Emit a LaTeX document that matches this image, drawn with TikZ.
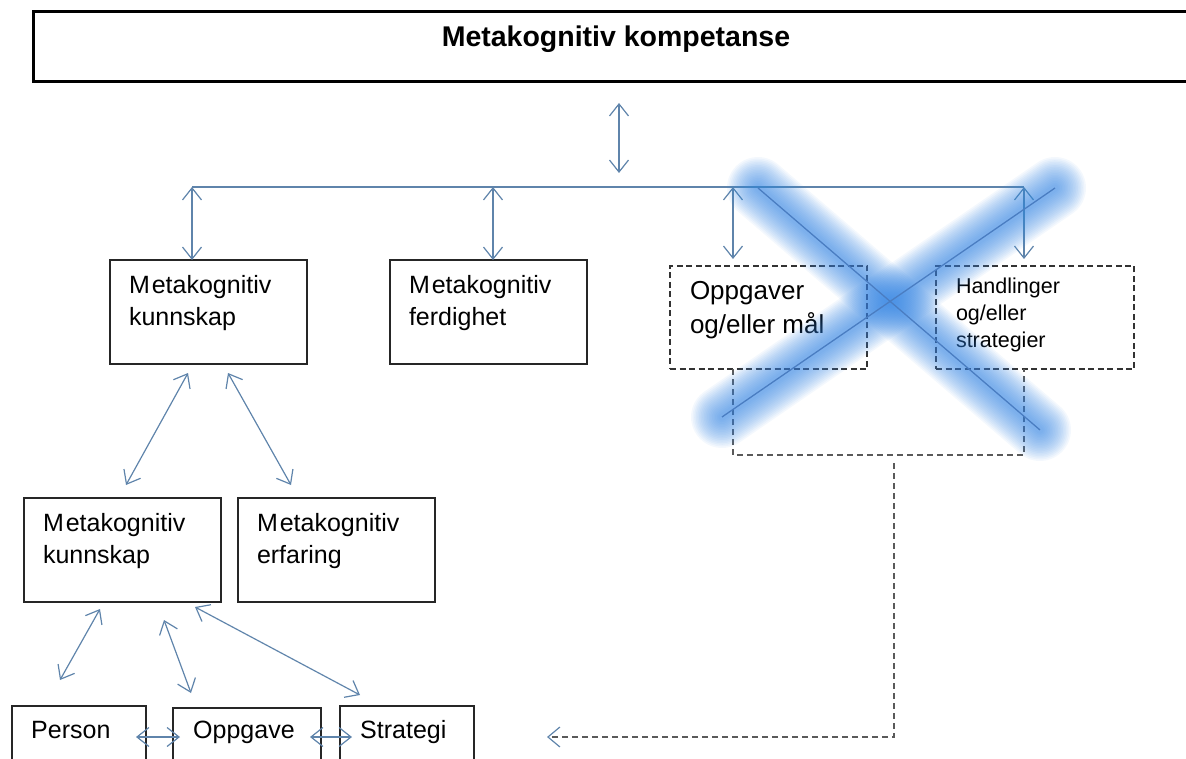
\documentclass[tikz,border=0pt]{standalone}
\usepackage{fontspec}
\setmainfont{Liberation Sans}
\usetikzlibrary{arrows.meta,calc}
\definecolor{arrowc}{HTML}{5F84AB}
\definecolor{dashc}{HTML}{5A5A5A}
\definecolor{crossc}{HTML}{3484E2}
\definecolor{crossline}{HTML}{4A7DC2}
\begin{document}
\begin{tikzpicture}[x=1pt,y=-1pt,
  box/.style={draw=black!85, line width=1.4pt, inner sep=0pt, outer sep=0pt,
    anchor=north west, minimum width=197pt, minimum height=104pt},
  dbox/.style={box, draw=black!80, dash pattern=on 6pt off 3.5pt, line width=1.3pt,
    minimum height=103pt},
  leaf/.style={box, minimum height=90pt},
  txt/.style={anchor=north west, inner sep=0pt, outer sep=0pt, align=left,
    font=\fontsize{25}{32}\selectfont},
  link/.style={draw=arrowc, line width=1.2pt,
    {Straight Barb[length=12pt,width=19pt]}-{Straight Barb[length=12pt,width=19pt]}},
  guide/.style={draw=dashc, line width=1.2pt, dash pattern=on 6pt off 4pt},
]
\useasboundingbox (0,0) rectangle (1186,759);
\clip (0,0) rectangle (1186,759);

% title bar
\node[draw=black, line width=3pt, inner sep=0pt, outer sep=0pt, anchor=north west,
  minimum width=1180pt, minimum height=70pt] (top) at (33,12) {};
\node[anchor=base, inner sep=0pt, font=\bfseries\fontsize{28.5}{30}\selectfont]
  (toptext) at (616,47) {Metakognitiv kompetanse};

% second level
\node[box]  (A) at (110,260) {};
\node[box]  (B) at (390,260) {};
\node[dbox] (C) at (670,266) {};
\node[dbox, minimum width=198pt] (D) at (936,266) {};
\node[txt] (At) at (129,275) {M\kern2pt etakognitiv\\kunnskap};
\node[txt] (Bt) at (409,275) {M\kern2pt etakognitiv\\ferdighet};
\node[txt, font=\fontsize{26}{34}\selectfont] (Ct) at (690,281) {Oppgaver\\og/eller mål};
\node[txt, font=\fontsize{21.5}{27}\selectfont] (Dt) at (956,278) {Handlinger\\og/eller\\strategier};

% third level
\node[box] (E) at (24,498) {};
\node[box] (F) at (238,498) {};
\node[txt] (Et) at (43,513) {M\kern2pt etakognitiv\\kunnskap};
\node[txt] (Ft) at (257,513) {M\kern2pt etakognitiv\\erfaring};

% bottom level
\node[leaf, minimum width=134pt] (P) at (12,706) {};
\node[leaf, minimum width=148pt] (O) at (173,708) {};
\node[leaf, minimum width=134pt] (S) at (340,706) {};
\node[anchor=base west, inner sep=0pt, font=\fontsize{25}{30}\selectfont] (Pt) at (31,738) {Person};
\node[anchor=base west, inner sep=0pt, font=\fontsize{25}{30}\selectfont] (Ot) at (193,738) {Oppgave};
\node[anchor=base west, inner sep=0pt, font=\fontsize{25}{30}\selectfont] (St) at (360,738) {Strategi};

% bus line and arrows down from it
\coordinate (busL) at (192,187);
\coordinate (busB) at (493,187);
\coordinate (hub)  at (619,187);
\coordinate (busC) at (733,187);
\coordinate (busR) at (1024,187);
\draw[draw=arrowc, line width=1.2pt] (busL) -- (busR);
\draw[link, shorten <=21pt, shorten >=14pt] (top.south -| hub) -- (hub);
\draw[link] (busL) -- (busL |- A.north);
\draw[link] (busB) -- (busB |- B.north);
\draw[link, shorten >=7pt] (busC) -- (busC |- C.north);
\draw[link, shorten >=7pt] (busR) -- (busR |- D.north);

% knowledge branches
\draw[link] ($(A.south west)+(78,9)$)  -- ($(E.north west)+(102,-13)$);
\draw[link] ($(A.south west)+(118,9)$) -- ($(F.north west)+(53,-13)$);
\draw[link] ($(E.south west)+(76,7)$)   -- ($(P.north west)+(48,-26)$);
\draw[link] ($(E.south west)+(140,18)$) -- ($(O.north west)+(18,-15)$);
\draw[link] ($(E.south west)+(171,5)$)  -- ($(S.north west)+(20,-11)$);
\draw[link] ($(P.north east)+(-10,31)$) -- ($(O.north west)+(7,29)$);
\draw[link] ($(O.north east)+(-11,29)$) -- ($(S.north west)+(12,31)$);

% dashed bracket under the two dashed boxes, returning to the bottom row
\coordinate (brk) at (894,455);
\coordinate (ret) at (547,737);
\draw[guide] (C.south -| busC) -- (busC |- brk) -- (busR |- brk) -- (D.south -| busR);
\draw[guide, -{Straight Barb[length=12pt,width=20pt,color=arrowc]}]
  ($(brk)+(0,8)$) |- (ret);

% soft glowing cross over the two dashed boxes
\coordinate (xa1) at (758,188);
\coordinate (xb1) at (1040,430);
\coordinate (xa2) at (722,417);
\coordinate (xb2) at (1055,188);
\begin{scope}[line cap=round]
\foreach \i in {0,...,17}{
  \pgfmathsetmacro{\w}{62-3.2*\i}
  \draw[crossc, line width=\w pt, opacity=0.055] (xa1) -- (xb1);
  \draw[crossc, line width=\w pt, opacity=0.055] (xa2) -- (xb2);
}
\end{scope}
\draw[crossline, line width=1.3pt] (xa1) -- (xb1);
\draw[crossline, line width=1.3pt] (xa2) -- (xb2);
\end{tikzpicture}
\end{document}
